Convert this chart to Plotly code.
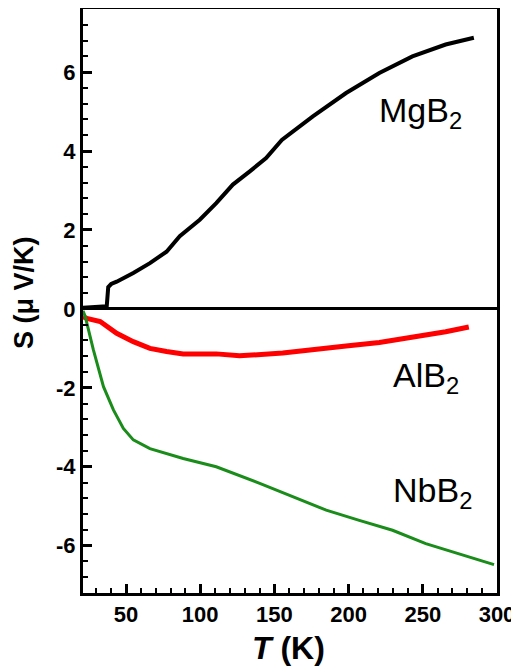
import plotly.graph_objects as go

# MgB2
mg_T = [21, 26, 30, 34, 37, 38, 40, 43.7, 54.9, 66.1, 77.3, 86.2, 99.7, 110.8, 122, 133.2, 144.4, 155, 175.9, 198.3, 220.7, 243, 265.4, 284.4]
mg_S = [0.03, 0.05, 0.05, 0.06, 0.07, 0.55, 0.63, 0.69, 0.91, 1.16, 1.45, 1.84, 2.26, 2.68, 3.15, 3.48, 3.82, 4.28, 4.88, 5.47, 5.98, 6.4, 6.7, 6.87]

# AlB2
al_T = [21, 23.6, 32.6, 43.7, 54.9, 66.1, 77.3, 88.5, 110.8, 126.5, 155.6, 175.9, 198.3, 220.7, 243, 265.4, 281]
al_S = [-0.2, -0.24, -0.32, -0.62, -0.83, -1.0, -1.08, -1.14, -1.14, -1.19, -1.12, -1.02, -0.94, -0.85, -0.72, -0.58, -0.46]

# NbB2
nb_T = [21, 22.5, 28, 34.8, 41.5, 48.2, 54.9, 66.1, 88.5, 110.8, 140.1, 162.5, 184.9, 207.2, 229.6, 252, 274.4, 292.3, 298]
nb_S = [-0.05, -0.19, -1.04, -1.97, -2.56, -3.03, -3.32, -3.54, -3.79, -4.0, -4.42, -4.76, -5.1, -5.36, -5.61, -5.95, -6.2, -6.41, -6.48]

x_tickvals = [50, 100, 150, 200, 250, 300]
x_ticktext = ["50", "100", "150", "200", "250", "300"]
y_tickvals = [-6, -4, -2, 0, 2, 4, 6]
y_ticktext = ["-6", "-4", "-2", "0", "2", "4", "6"]

labels = ["MgB<sub>2</sub>", "AlB<sub>2</sub>", "NbB<sub>2</sub>"]
label_T = [219.3, 228.5, 228.5]
label_S = [4.98, -1.75, -4.65]

FONT = "Arial, Liberation Sans, sans-serif"

# page has an 8px body margin; plot area in page px: x 83..497, y 9..593
fig = go.Figure()
fig.add_trace(go.Scatter(x=mg_T, y=mg_S, mode="lines", line=dict(color="black", width=4), showlegend=False))
fig.add_trace(go.Scatter(x=al_T, y=al_S, mode="lines", line=dict(color="#ff0000", width=5), showlegend=False))
fig.add_trace(go.Scatter(x=nb_T, y=nb_S, mode="lines", line=dict(color="#1a8c1a", width=3), showlegend=False))

for t, x, y in zip(labels, label_T, label_S):
    fig.add_annotation(x=x, y=y, text=t, showarrow=False, xanchor="left", yanchor="middle",
                       font=dict(family=FONT, size=34, color="black"))

# axis titles
fig.add_annotation(xref="paper", yref="paper", x=(288 - 83) / 414, y=(593 - 648) / 584,
                   text="<b><i>T</i> (K)</b>", showarrow=False, xanchor="center", yanchor="middle",
                   font=dict(family=FONT, size=32, color="black"))
fig.add_annotation(xref="paper", yref="paper", x=(24 - 83) / 414, y=(593 - 293) / 584,
                   text="<b>S (μ V/K)</b>", showarrow=False, xanchor="center", yanchor="middle",
                   textangle=-90, font=dict(family=FONT, size=27, color="black"))

fig.update_layout(
    width=511, height=660,
    margin=dict(l=75, r=22, t=1, b=75),
    plot_bgcolor="white", paper_bgcolor="white",
    font=dict(family=FONT, color="black"),
)
fig.update_xaxes(
    range=[21, 300], tickvals=x_tickvals, ticktext=["<b>%s</b>" % s for s in x_ticktext],
    ticks="inside", ticklen=9, tickwidth=2.5, tickcolor="black",
    minor=dict(tick0=0, dtick=10, ticks="inside", ticklen=5, tickwidth=2, tickcolor="black"),
    showline=True, linewidth=3, linecolor="black", mirror=True, showgrid=False, zeroline=False,
    tickfont=dict(family=FONT, size=22, color="black"), automargin=False,
)
fig.update_yaxes(
    range=[-7.2, 7.6], tickvals=y_tickvals, ticktext=["<b>%s</b>" % s for s in y_ticktext],
    ticks="inside", ticklen=9, tickwidth=2.5, tickcolor="black",
    minor=dict(tick0=0, dtick=0.4, ticks="inside", ticklen=5, tickwidth=2, tickcolor="black"),
    showline=True, linewidth=3, linecolor="black", mirror=True, showgrid=False,
    zeroline=True, zerolinecolor="black", zerolinewidth=2.5,
    tickfont=dict(family=FONT, size=22, color="black"), automargin=False,
)

fig.write_html("out.html")
